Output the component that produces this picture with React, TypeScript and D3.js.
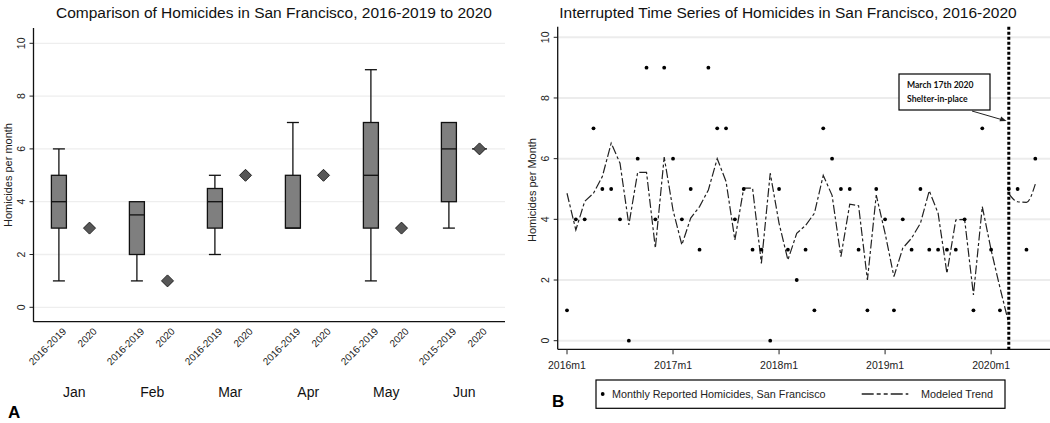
import React from 'react';
import * as d3 from 'd3';

// ---------- Panel A data ----------
const months = ['Jan', 'Feb', 'Mar', 'Apr', 'May', 'Jun'];
const periods = ['2016-2019', '2020'];
const baselineLabels = ['2016-2019', '2016-2019', '2016-2019', '2016-2019', '2016-2019', '2015-2019'];
const whiskerLow = [1, 1, 2, 3, 1, 3];
const quartile1 = [3, 2, 3, 3, 3, 4];
const medians = [4, 3.5, 4, 3, 5, 6];
const quartile3 = [5, 4, 4.5, 5, 7, 7];
const whiskerHigh = [6, 4, 5, 7, 9, 7];
const values2020 = [3, 1, 5, 5, 3, 6];
const flatBox2020 = [false, false, false, false, false, true];
const yTicks = [0, 2, 4, 6, 8, 10];

// ---------- Panel B data ----------
const monthlyHomicides = [
  1, 4, 4, 7, 5, 5, 4, 0, 6, 9, 4, 9,
  6, 4, 5, 3, 9, 7, 7, 4, 5, 3, 3, 0,
  5, 3, 2, 3, 1, 7, 6, 5, 5, 3, 1, 5,
  4, 1, 4, 3, 5, 3, 3, 3, 3, 4, 1, 7,
  3, 1, 5, 5, 3, 6,
];
const trendPre = [
  4.86, 3.65, 4.59, 4.86, 5.41, 6.51, 5.85, 3.82, 5.55, 5.55, 3.05, 6.05,
  4.3, 3.16, 4.04, 4.42, 4.97, 6.0, 5.25, 3.32, 5.03, 5.03, 2.55, 5.52,
  3.87, 2.66, 3.54, 3.8, 4.2, 5.45, 4.79, 2.77, 4.5, 4.45, 2.0, 4.8,
  3.54, 2.11, 3.05, 3.38, 3.87, 4.94, 4.2, 2.22, 3.98, 4.0, 1.51, 4.42,
  2.99, 1.75, 0.57,
];
const trendPostStart = 50;
const trendPost = [4.85, 4.58, 4.56, 5.16];
const xTickMonths = [0, 12, 24, 36, 48];
const xTickLabels = ['2016m1', '2017m1', '2018m1', '2019m1', '2020m1'];
const interventionMonth = 50;

const FONT = '"Liberation Sans", Arial, Helvetica, sans-serif';

function PanelA() {
  const y = d3.scaleLinear().domain([0, 10]).range([307.3, 43.3]);
  const x = d3.scaleBand<string>().domain(months).range([35.2, 503.2]);
  const sub = d3.scalePoint<string>().domain(periods).range([-15.3, 15.3]);
  const axisX = 33.5;
  const axisBottom = 321.7;
  const boxW = 15;
  const capW = 12;
  return (
    <g fontFamily={FONT}>
      <text x={274} y={18} textAnchor="middle" fontSize={15.5} fill="#111">
        Comparison of Homicides in San Francisco, 2016-2019 to 2020
      </text>
      {yTicks.map((t) => (
        <g key={t}>
          <line x1={axisX} x2={505} y1={y(t)} y2={y(t)} stroke="#eeeeee" strokeWidth={1.3} />
          <line x1={axisX - 4} x2={axisX} y1={y(t)} y2={y(t)} stroke="#222" strokeWidth={1} />
          <text
            transform={`translate(${21},${y(t)}) rotate(-90)`}
            textAnchor="middle"
            dy="0.35em"
            fontSize={10.5}
            fill="#222"
          >
            {t}
          </text>
        </g>
      ))}
      <text transform={`translate(8,175) rotate(-90)`} textAnchor="middle" dy="0.35em" fontSize={11} fill="#222">
        Homicides per month
      </text>
      <line x1={axisX} x2={axisX} y1={28} y2={axisBottom} stroke="#111" strokeWidth={1.3} />
      <line x1={axisX} x2={505} y1={axisBottom} y2={axisBottom} stroke="#111" strokeWidth={1.3} />
      {months.map((m, i) => {
        const c = (x(m) as number) + x.bandwidth() / 2;
        const bx = c + (sub(periods[0]) as number);
        const dx = c + (sub(periods[1]) as number);
        const v = values2020[i];
        return (
          <g key={m}>
            {whiskerHigh[i] > quartile3[i] && (
              <g stroke="#111" strokeWidth={1.3}>
                <line x1={bx} x2={bx} y1={y(quartile3[i])} y2={y(whiskerHigh[i])} />
                <line x1={bx - capW / 2} x2={bx + capW / 2} y1={y(whiskerHigh[i])} y2={y(whiskerHigh[i])} />
              </g>
            )}
            {whiskerLow[i] < quartile1[i] && (
              <g stroke="#111" strokeWidth={1.3}>
                <line x1={bx} x2={bx} y1={y(quartile1[i])} y2={y(whiskerLow[i])} />
                <line x1={bx - capW / 2} x2={bx + capW / 2} y1={y(whiskerLow[i])} y2={y(whiskerLow[i])} />
              </g>
            )}
            <rect
              x={bx - boxW / 2}
              y={y(quartile3[i])}
              width={boxW}
              height={y(quartile1[i]) - y(quartile3[i])}
              fill="#7f7f7f"
              stroke="#111"
              strokeWidth={1.3}
            />
            <line x1={bx - boxW / 2} x2={bx + boxW / 2} y1={y(medians[i])} y2={y(medians[i])} stroke="#111" strokeWidth={1.3} />
            {flatBox2020[i] && (
              <line x1={dx - boxW / 2} x2={dx + boxW / 2} y1={y(v)} y2={y(v)} stroke="#111" strokeWidth={1.3} />
            )}
            <path
              d={`M${dx},${y(v) - 6} L${dx + 6},${y(v)} L${dx},${y(v) + 6} L${dx - 6},${y(v)} Z`}
              fill="#575757"
              stroke="#222"
              strokeWidth={1}
            />
            <text
              transform={`translate(${bx + 3},${327}) rotate(-45)`}
              textAnchor="end"
              dy="0.7em"
              fontSize={10}
              fill="#222"
            >
              {baselineLabels[i]}
            </text>
            <text
              transform={`translate(${dx + 3},${327}) rotate(-45)`}
              textAnchor="end"
              dy="0.7em"
              fontSize={10}
              fill="#222"
            >
              {periods[1]}
            </text>
            <text x={c} y={397} textAnchor="middle" fontSize={14} fill="#111">
              {m}
            </text>
          </g>
        );
      })}
      <text x={8} y={418} fontSize={17} fontWeight="bold" fill="#000">
        A
      </text>
    </g>
  );
}

function PanelB() {
  const x = d3.scaleLinear().domain([0, 53]).range([567, 1035.3]);
  const y = d3.scaleLinear().domain([0, 10]).range([340.7, 37.3]);
  const axisX = 557.7;
  const axisBottom = 349.3;
  const line = d3
    .line<number>()
    .x((_, i) => x(i))
    .y((d) => y(d));
  const linePost = d3
    .line<number>()
    .x((_, i) => x(trendPostStart + i))
    .y((d) => y(d))
    .curve(d3.curveMonotoneX);
  const dash = '9,2.5,3,2.5';
  const ix = x(interventionMonth);
  return (
    <g fontFamily={FONT}>
      <text x={788} y={18} textAnchor="middle" fontSize={15.5} fill="#111">
        Interrupted Time Series of Homicides in San Francisco, 2016-2020
      </text>
      {yTicks.map((t) => (
        <g key={t}>
          <line x1={axisX} x2={1050} y1={y(t)} y2={y(t)} stroke="#ececec" strokeWidth={2} />
          <line x1={axisX - 4} x2={axisX} y1={y(t)} y2={y(t)} stroke="#222" strokeWidth={1} />
          <text
            transform={`translate(${545},${y(t)}) rotate(-90)`}
            textAnchor="middle"
            dy="0.35em"
            fontSize={10.5}
            fill="#222"
          >
            {t}
          </text>
        </g>
      ))}
      <text transform={`translate(532,190) rotate(-90)`} textAnchor="middle" dy="0.35em" fontSize={11} fill="#222">
        Homicides per Month
      </text>
      <line x1={axisX} x2={axisX} y1={26.7} y2={axisBottom} stroke="#111" strokeWidth={1.3} />
      <line x1={axisX} x2={1050} y1={axisBottom} y2={axisBottom} stroke="#111" strokeWidth={1.3} />
      {xTickMonths.map((m, i) => (
        <g key={m}>
          <line x1={x(m)} x2={x(m)} y1={axisBottom} y2={axisBottom + 5} stroke="#222" strokeWidth={1} />
          <text x={x(m)} y={369} textAnchor="middle" fontSize={10.5} fill="#222">
            {xTickLabels[i]}
          </text>
        </g>
      ))}
      <path d={line(trendPre) || ''} fill="none" stroke="#222" strokeWidth={1.2} strokeDasharray={dash} />
      <path d={linePost(trendPost) || ''} fill="none" stroke="#222" strokeWidth={1.2} strokeDasharray={dash} />
      {monthlyHomicides.map((v, i) => (
        <circle key={i} cx={x(i)} cy={y(v)} r={1.9} fill="#000" />
      ))}
      <line x1={ix} x2={ix} y1={26.7} y2={axisBottom} stroke="#000" strokeWidth={3} strokeDasharray="3,2" />
      <rect x={899} y={74} width={91} height={36} fill="#fff" stroke="#000" strokeWidth={1.2} />
      <text x={907} y={88} fontSize={8.6} fontWeight="bold" fontFamily="Lato, sans-serif" fill="#111">
        March 17th 2020
      </text>
      <text x={907} y={102} fontSize={8.6} fontWeight="bold" fontFamily="Lato, sans-serif" fill="#111">
        Shelter-in-place
      </text>
      <line x1={972} y1={111} x2={1003} y2={120} stroke="#222" strokeWidth={1} />
      <path d="M1006.5,121 L999.5,121.2 L1001.2,116.6 Z" fill="#222" />
      <rect x={596} y={380} width={409} height={28.3} fill="#fff" stroke="#000" strokeWidth={1.2} />
      <circle cx={602.7} cy={394} r={1.9} fill="#000" />
      <text x={612} y={398} fontSize={10.8} fill="#222">
        Monthly Reported Homicides, San Francisco
      </text>
      <line x1={861.7} x2={908.3} y1={394} y2={394} stroke="#222" strokeWidth={1.5} strokeDasharray="12,3,4,3,4,3" />
      <text x={921} y={398} fontSize={10.8} fill="#222">
        Modeled Trend
      </text>
      <text x={552} y={407} fontSize={17} fontWeight="bold" fill="#000">
        B
      </text>
    </g>
  );
}

export default function App() {
  return (
    <svg
      width={1050}
      height={423}
      viewBox="0 0 1050 423"
      style={{ position: 'absolute', left: 0, top: 0, background: '#fff' }}
    >
      <rect width={1050} height={423} fill="#fff" />
      <PanelA />
      <PanelB />
    </svg>
  );
}
